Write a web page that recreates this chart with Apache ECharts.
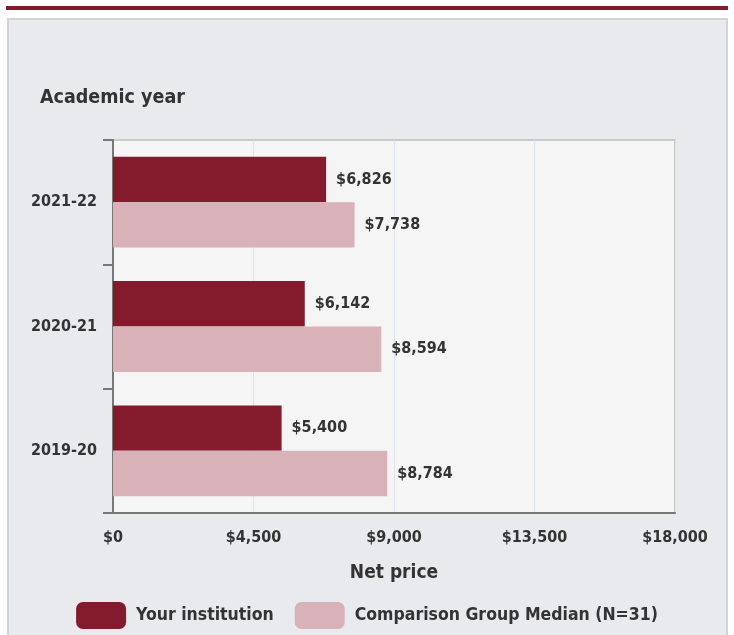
<!DOCTYPE html>
<html><head><meta charset="utf-8">
<script src="https://cdn.jsdelivr.net/npm/echarts@6/dist/echarts.min.js"></script>
<style>
html,body{margin:0;padding:0;background:#fff;width:734px;height:635px;overflow:hidden;}
#topbar{position:absolute;left:6px;top:6px;width:722px;height:4px;background:#841b2d;}
#panel{position:absolute;left:7px;top:18px;width:721px;height:640px;background:#e9eaee;border:2px solid #d3d3d3;box-sizing:border-box;}
#chart{position:absolute;left:0;top:0;width:734px;height:635px;}
</style></head>
<body>
<div id="topbar"></div>
<div id="panel"></div>
<div id="chart"></div>
<script>
const categories = ['2019-20', '2020-21', '2021-22'];
const seriesNames = ['Your institution', 'Comparison Group Median (N=31)'];
const yourInstitution = [5400, 6142, 6826];
const comparisonMedian = [8784, 8594, 7738];
const xTicks = [0, 4500, 9000, 13500, 18000];
const colors = ['#841b2d', '#d8b2b8'];

const fontFamily = '"DejaVu Sans Condensed", "Liberation Sans", Arial, sans-serif';
const txt = '#333333';
const fmt = v => '$' + Number(v).toLocaleString('en-US');

const chart = echarts.init(document.getElementById('chart'), null, {renderer: 'canvas'});
chart.setOption({
  backgroundColor: 'transparent',
  animation: false,
  textStyle: {fontFamily: fontFamily},
  grid: {left: 113, right: 59, top: 140, bottom: 122, show: true, backgroundColor: '#f5f5f5', borderColor: '#c9c9c9', borderWidth: 2},
  graphic: [{type: 'text', left: 40, top: 88, style: {text: 'Academic year', font: 'bold 19.5px ' + fontFamily, fill: txt}}],
  legend: {
    bottom: 1, left: 'center', itemWidth: 50, itemHeight: 27, itemGap: 21,
    icon: 'roundRect',
    textStyle: {fontSize: 17.5, fontWeight: 'bold', color: txt, fontFamily: fontFamily, padding: [0, 0, 0, 5]},
    data: seriesNames
  },
  xAxis: {
    type: 'value', min: xTicks[0], max: xTicks[xTicks.length - 1], interval: xTicks[1] - xTicks[0],
    name: 'Net price', nameLocation: 'middle', nameGap: 51,
    nameTextStyle: {fontSize: 19, fontWeight: 'bold', color: txt, fontFamily: fontFamily},
    axisLine: {show: true, lineStyle: {color: '#777', width: 2}},
    axisTick: {show: false},
    axisLabel: {formatter: fmt, fontSize: 16, fontWeight: 'bold', color: txt, margin: 17, fontFamily: fontFamily},
    splitLine: {show: true, lineStyle: {color: '#dde3ee', width: 1}}
  },
  yAxis: {
    type: 'category', data: categories,
    axisLine: {show: true, lineStyle: {color: '#777', width: 2}},
    axisTick: {show: true, length: 10, lineStyle: {color: '#777', width: 2}},
    axisLabel: {fontSize: 16, fontWeight: 'bold', color: txt, margin: 16, fontFamily: fontFamily},
    splitLine: {show: false}
  },
  series: [
    {name: seriesNames[0], type: 'bar', data: yourInstitution, barGap: '0%', barCategoryGap: '27%',
     itemStyle: {color: colors[0]},
     label: {show: true, position: 'right', distance: 10, formatter: p => fmt(p.value), fontSize: 16, fontWeight: 'bold', color: txt, fontFamily: fontFamily}},
    {name: seriesNames[1], type: 'bar', data: comparisonMedian, barGap: '0%', barCategoryGap: '27%',
     itemStyle: {color: colors[1]},
     label: {show: true, position: 'right', distance: 10, formatter: p => fmt(p.value), fontSize: 16, fontWeight: 'bold', color: txt, fontFamily: fontFamily}}
  ]
});
</script>
</body></html>
